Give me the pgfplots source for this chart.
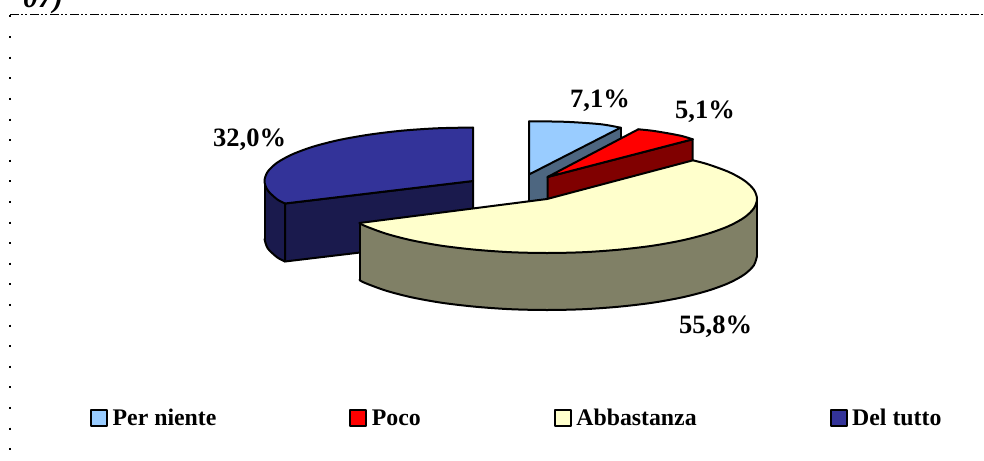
\documentclass[border=0pt]{standalone}
\usepackage{fontspec}
\setmainfont{Liberation Serif}
\usepackage{pgfplots}
\usepackage{pgfplotstable}
\pgfplotsset{compat=1.18}
\definecolor{cLB}{HTML}{99CCFF}\definecolor{cLBw}{HTML}{4D6680}
\definecolor{cR}{HTML}{FF0000}\definecolor{cRw}{HTML}{800000}
\definecolor{cY}{HTML}{FFFFCC}\definecolor{cYw}{HTML}{808066}
\definecolor{cN}{HTML}{333399}\definecolor{cNw}{HTML}{1A1A4D}
% first row of each table = sector apex, the others = outer arc
\pgfplotstableread{
x y
529 174.5
529 121.3
565.3 121.8
600.5 124.2
620.5 127.7
}\tLB
\pgfplotstableread{
x y
547.5 177
638.3 129.3
652 130.7
667.4 133.2
681.8 136
692.7 139.3
}\tR
\pgfplotstableread{
x y
547 199
693 160.3
707.9 164.3
728.9 172
744.3 180.5
753.8 189.6
757 199
753.8 208.4
744.3 217.5
728.9 226
707.9 233.7
682 240.4
652 245.8
618.8 249.7
583.5 252.2
547 253
510.5 252.2
475.2 249.7
442 245.8
412 240.4
386.1 233.7
365.1 226
359.5 223
}\tY
\pgfplotstableread{
x y
473 181
285 203.5
277.1 199.3
267.7 190.3
264.5 181
267.7 171.7
277.1 162.7
292.4 154.3
313.3 146.6
339 140
368.8 134.7
401.7 130.7
436.8 128.3
473 127.5
}\tN
% outer walls: first and last rows on top rim
\pgfplotstableread{
x y
757 199
757 256
753.8 265.4
744.3 274.5
728.9 283
707.9 290.7
682 297.4
652 302.8
618.8 306.7
583.5 309.2
547 310
510.5 309.2
475.2 306.7
442 302.8
412 297.4
386.1 290.7
365.1 283
359.5 280
359.5 223
}\wY
\pgfplotstableread{
x y
264.5 181
264.5 239
267.7 248.3
277.1 257.3
285 261.5
285 203.5
}\wN
\begin{document}
\begin{tikzpicture}
\path[use as bounding box,clip] (0,0) rectangle (984pt,460pt);
\begin{axis}[
  at={(0,0)},anchor=south west,
  scale only axis,width=984pt,height=460pt,
  xmin=0,xmax=984,ymin=0,ymax=460,y dir=reverse,
  axis lines=none,clip=false,
  every axis plot/.append style={no markers,line width=2pt,line join=round,line cap=round},
  legend columns=4,
  legend style={at={(axis cs:90,418)},anchor=west,draw=none,fill=none,
    font=\fontsize{23.8}{26}\selectfont\bfseries,
    /tikz/every even column/.style={column sep=131pt},
    inner xsep=0pt,inner ysep=0pt,
    nodes={inner sep=2pt}},
  legend cell align=left,
  legend image code/.code={\draw[#1,line width=2pt] (0pt,-8pt) rectangle (16pt,8pt);\path (18.5pt,0pt);},
]
% frame
\addplot[black,line width=1pt,line cap=butt,dash pattern=on 9pt off 2pt on 2pt off 2pt on 2pt off 3pt,forget plot] coordinates {(10,14.5)(984,14.5)};
\addplot[black,line width=1.6pt,line cap=butt,dash pattern=on 2pt off 18.6pt,forget plot] coordinates {(10,15.5)(10,460)};
% light blue slice
\addplot[fill=cLBw,draw=none,forget plot] coordinates {(529,174.5)(620.5,127.7)(620.5,185)(529,232)};
\addplot[black,forget plot] coordinates {(529,174.5)(529,232)};
\addplot[black,forget plot] coordinates {(620.5,127.7)(620.5,185)};
\addplot[fill=cLB,draw=none,forget plot] table {\tLB};
\addplot[black,smooth,skip coords between index={0}{1},forget plot] table {\tLB};
\addplot[black,forget plot] coordinates {(529,121.3)(529,174.5)(620.5,127.7)};
% red slice
\addplot[fill=cRw,draw=black,forget plot] coordinates {(547.5,177)(692.7,139.3)(692.7,196.3)(547.5,234)(547.5,177)};
\addplot[fill=cR,draw=none,forget plot] table {\tR};
\addplot[black,smooth,skip coords between index={0}{1},forget plot] table {\tR};
\addplot[black,forget plot] coordinates {(638.3,129.3)(547.5,177)(692.7,139.3)};
% navy slice
\addplot[fill=cNw,draw=none,forget plot] table {\wN};
\addplot[fill=cNw,draw=black,forget plot] coordinates {(285,203.5)(473,181)(473,239)(285,261.5)(285,203.5)};
\addplot[black,smooth,skip coords between index={0}{1},skip coords between index={5}{6},forget plot] table {\wN};
\addplot[black,forget plot] coordinates {(264.5,181)(264.5,239)};
\addplot[fill=cN,draw=none,forget plot] table {\tN};
\addplot[black,smooth,skip coords between index={0}{1},forget plot] table {\tN};
\addplot[black,forget plot] coordinates {(285,203.5)(473,181)(473,127.5)};
% yellow slice
\addplot[fill=cYw,draw=none,forget plot] table {\wY};
\addplot[black,smooth,skip coords between index={0}{1},skip coords between index={18}{19},forget plot] table {\wY};
\addplot[black,forget plot] coordinates {(757,199)(757,256)};
\addplot[black,forget plot] coordinates {(359.5,223)(359.5,280)};
\addplot[fill=cY,draw=none,forget plot] table {\tY};
\addplot[black,smooth,skip coords between index={0}{1},forget plot] table {\tY};
\addplot[black,forget plot] coordinates {(693,160.3)(547,199)(359.5,223)};
% legend
\addlegendimage{fill=cLB,draw=black}\addlegendentry{Per niente}
\addlegendimage{fill=cR,draw=black}\addlegendentry{Poco}
\addlegendimage{fill=cY,draw=black}\addlegendentry{Abbastanza}
\addlegendimage{fill=cN,draw=black}\addlegendentry{Del tutto}
% labels
\newcommand{\lab}[3]{\node[anchor=base west,inner sep=0pt,font=\fontsize{26.5}{28}\selectfont\bfseries] at (axis cs:#1,#2) {#3};}
\lab{570}{107.5}{7,1\%}
\lab{675}{118.3}{5,1\%}
\lab{213}{146.7}{32,0\%}
\lab{679}{333}{55,8\%}
\node[anchor=base west,inner sep=0pt,font=\fontsize{30}{32}\selectfont\bfseries\itshape] at (axis cs:23,7.5) {07)};
\end{axis}
\end{tikzpicture}
\end{document}
